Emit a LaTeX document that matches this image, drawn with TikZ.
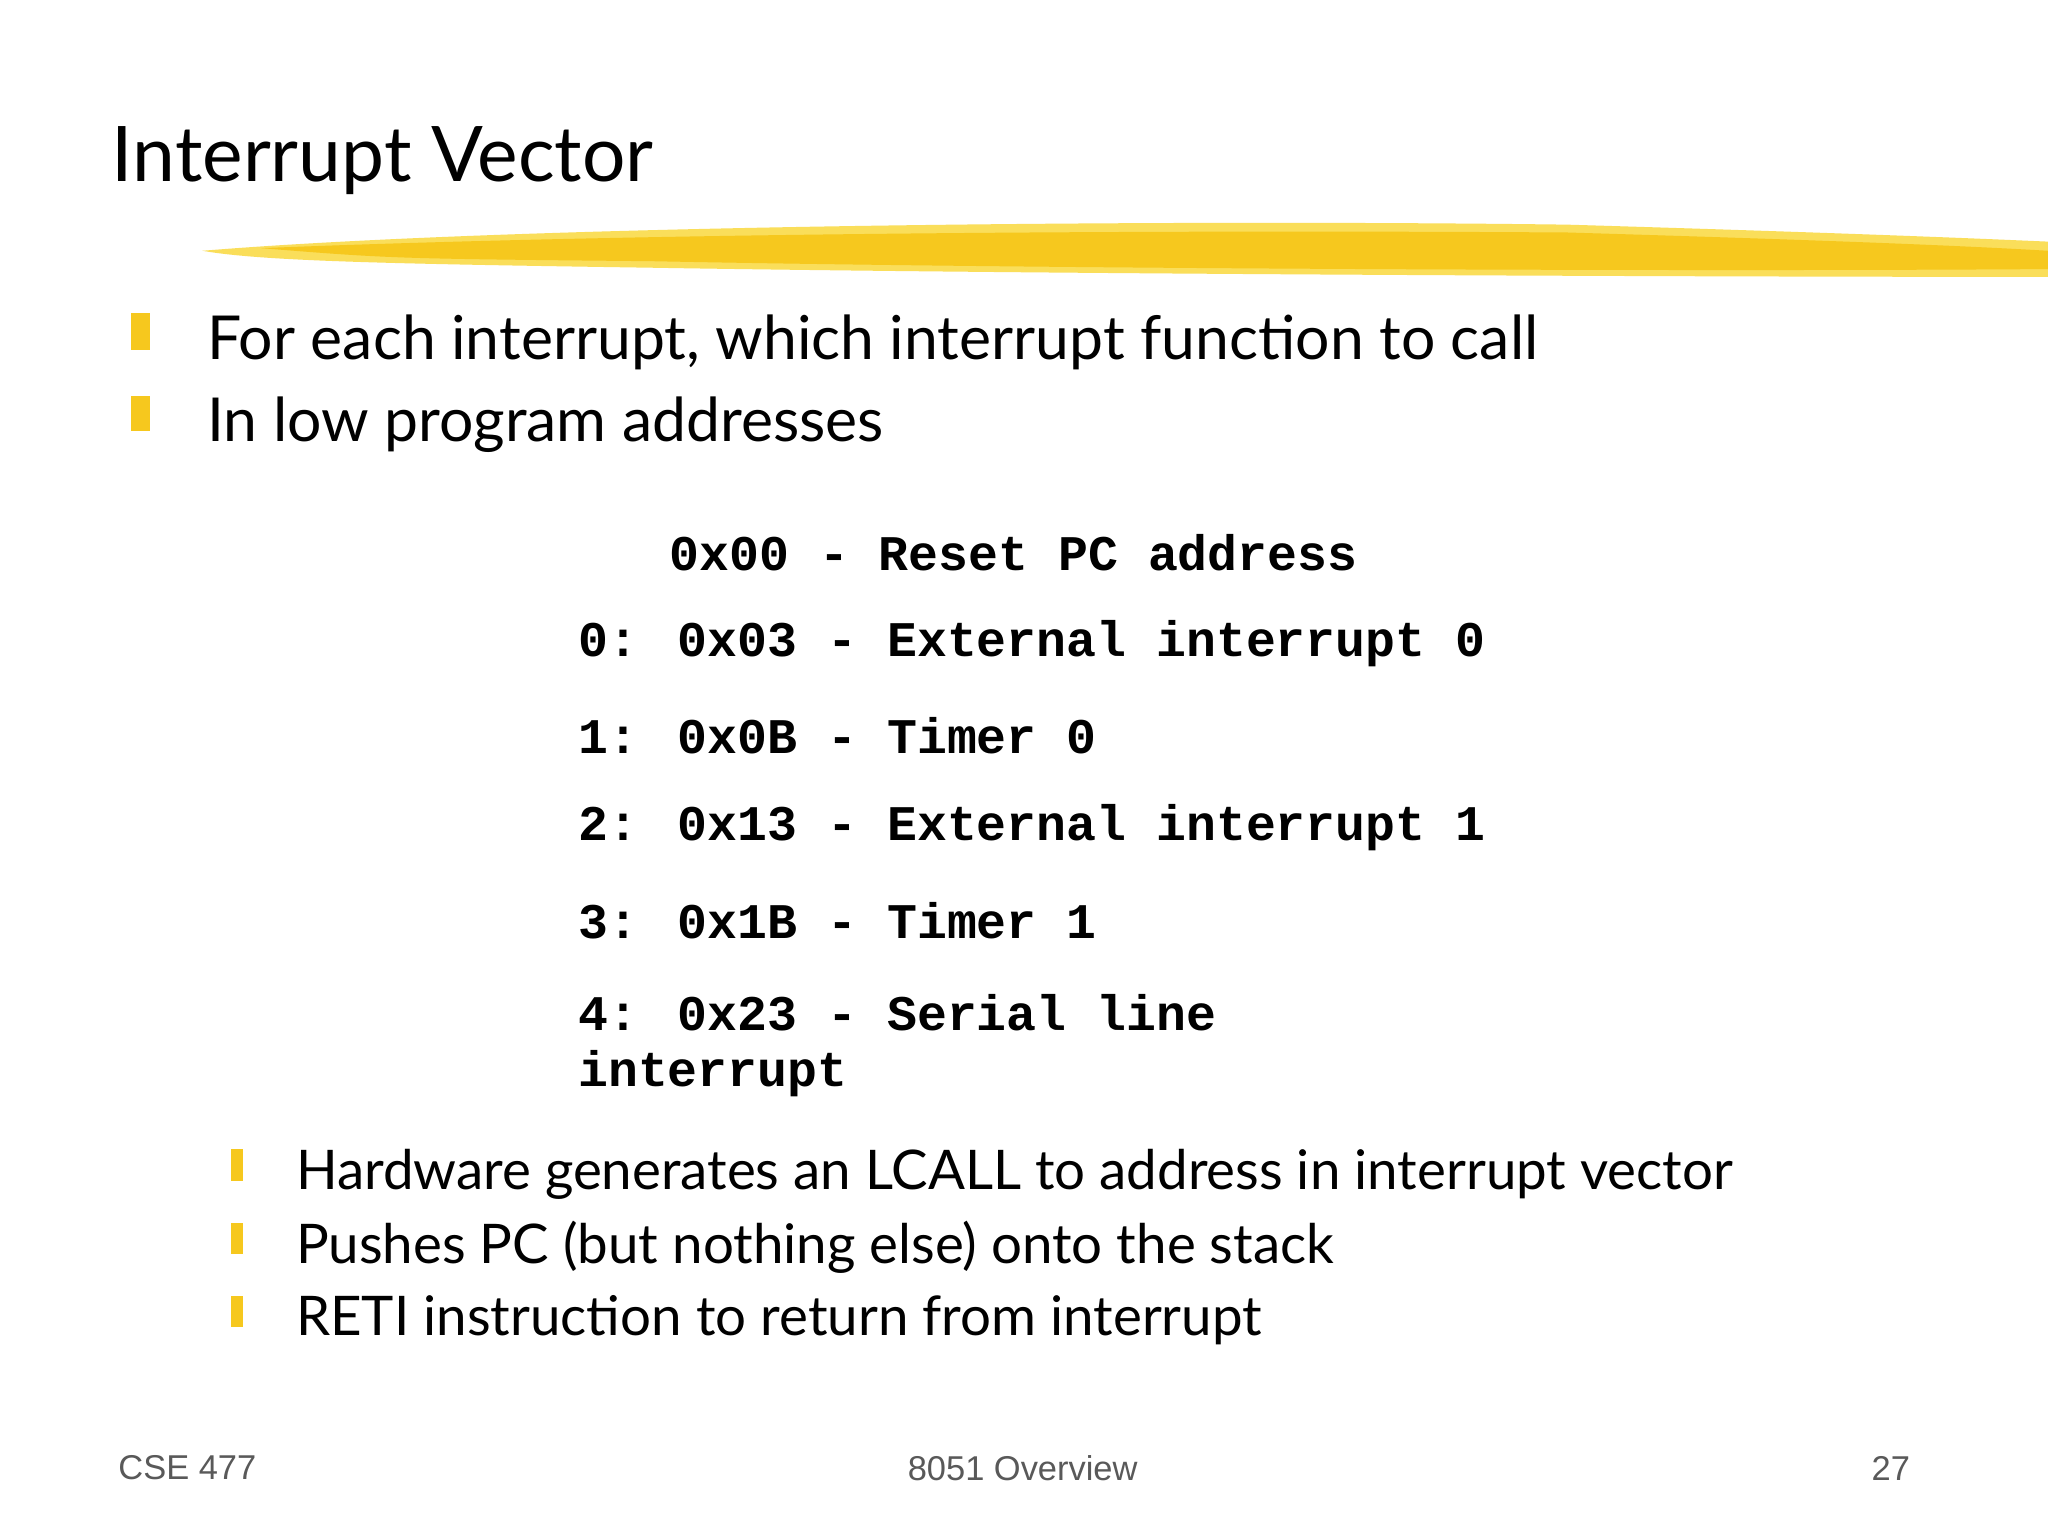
\documentclass[tikz,border=0pt]{standalone}
\usepackage{fontspec}
\setmainfont{Lato}
\newfontfamily\monob{Liberation Mono}
\newfontfamily\foot{Liberation Sans}
\definecolor{brush}{RGB}{246,200,30}
\definecolor{brushl}{RGB}{250,222,90}
\begin{document}
\begin{tikzpicture}[x=0.01cm,y=-0.01cm,
  txt/.style={anchor=west,inner sep=0pt,font=\fontsize{13.2}{15}\selectfont},
  sub/.style={anchor=west,inner sep=0pt,font=\fontsize{11.9}{14}\selectfont},
  code/.style={anchor=west,inner sep=0pt,font=\monob\bfseries\fontsize{10.85}{12}\selectfont},
  ft/.style={inner sep=0pt,font=\foot\fontsize{7.5}{9}\selectfont,text=black!65},
  bul/.style={fill=brush,draw=none}]
\useasboundingbox (0,0) rectangle (1568,1176);
\fill[white] (0,0) rectangle (1568,1176);
\node[anchor=west,inner sep=0pt,font=\fontsize{16.7}{20}\selectfont] (title) at (85,123) {Interrupt Vector};
\fill[brushl] (155,192) .. controls (400,172) and (900,168) .. (1200,172) .. controls (1400,178) and (1500,182) .. (1568,185) -- (1568,212) .. controls (1300,212) and (800,210) .. (500,205) .. controls (300,202) and (200,200) .. (155,192) -- cycle;
\fill[brush] (200,190) .. controls (500,178) and (900,176) .. (1200,178) .. controls (1400,184) and (1500,188) .. (1568,192) -- (1568,206) .. controls (1300,208) and (800,206) .. (500,200) .. controls (300,198) .. (200,190) -- cycle;
\fill[bul] (100,240) rectangle (115,268);
\fill[bul] (100,303) rectangle (115,330);
\node[txt] (b1) at (158,262) {For each interrupt, which interrupt function to call};
\node[txt] (b2) at (158,325) {In low program addresses};
\node[code] (c0) at (512,423) {0x00 - Reset PC address};
\node[code] (c1) at (442,493) {0: 0x03 - External interrupt 0};
\node[code] (c2) at (442,563) {1: 0x0B - Timer 0};
\node[code] (c3) at (442,634) {2: 0x13 - External interrupt 1};
\node[code] (c4) at (442,705) {3: 0x1B - Timer 1};
\node[code] (c5) at (442,775) {4: 0x23 - Serial line};
\node[code] (c6) at (442,822) {interrupt};
\fill[bul] (177,880) rectangle (186,904);
\fill[bul] (177,936) rectangle (186,960);
\fill[bul] (177,992) rectangle (186,1016);
\node[sub] (s1) at (226,899) {Hardware generates an LCALL to address in interrupt vector};
\node[sub] (s2) at (226,955) {Pushes PC (but nothing else) onto the stack};
\node[sub] (s3) at (226,1011) {RETI instruction to return from interrupt};
\node[ft,anchor=west] (f1) at (90,1124) {CSE 477};
\node[ft] (f2) at (783,1124) {8051 Overview};
\node[ft,anchor=east] (f3) at (1463,1124) {27};
\end{tikzpicture}
\end{document}
